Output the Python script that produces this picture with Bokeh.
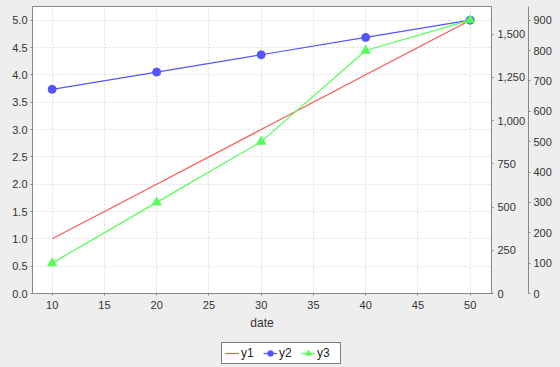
from bokeh.plotting import figure
from bokeh.models import Range1d, LinearAxis, FixedTicker, NumeralTickFormatter, Legend, LegendItem
from bokeh.layouts import column
from bokeh.embed import file_html
from bokeh.resources import INLINE

# ---- data ----
dates = [10, 20, 30, 40, 50]
y1 = [1, 2, 3, 4, 5]
y2 = [1180, 1280, 1380, 1480, 1580]
y3 = [100, 300, 500, 800, 900]

x_ticks = [10, 15, 20, 25, 30, 35, 40, 45, 50]
left_ticks = [0, 0.5, 1, 1.5, 2, 2.5, 3, 3.5, 4, 4.5, 5]
right1_ticks = [0, 250, 500, 750, 1000, 1250, 1500]
right2_ticks = [0, 100, 200, 300, 400, 500, 600, 700, 800, 900]

FONT = "Liberation Sans"
BG = "#EEEEEE"
AX = "#888888"
RED, BLUE, GREEN = "#FF5555", "#5555FF", "#55FF55"

p = figure(width=560, height=335, output_backend="svg", toolbar_location=None,
           x_range=Range1d(8.12, 52.04), y_range=Range1d(0, 5.25),
           min_border_left=32, min_border_top=6, min_border_right=69, min_border_bottom=42,
           background_fill_color="white", border_fill_color=BG,
           outline_line_color=AX)

p.extra_y_ranges = {"r1": Range1d(0, 1659), "r2": Range1d(0, 945)}

def style_axis(ax):
    ax.axis_line_color = AX
    ax.major_tick_line_color = AX
    ax.major_tick_in = 0
    ax.major_tick_out = 2
    ax.minor_tick_line_color = None
    ax.major_label_text_font = FONT
    ax.major_label_text_font_size = "11px"
    ax.major_label_text_color = "#333333"
    ax.major_label_standoff = 3
    ax.axis_label_text_font = FONT
    ax.axis_label_text_font_size = "12px"
    ax.axis_label_text_font_style = "normal"
    ax.axis_label_text_color = "#333333"

xa = p.xaxis[0]
style_axis(xa)
xa.ticker = FixedTicker(ticks=x_ticks)
xa.axis_label = "date"
xa.axis_label_standoff = 4
xa.major_label_standoff = 5

ya = p.yaxis[0]
style_axis(ya)
ya.ticker = FixedTicker(ticks=left_ticks)
ya.formatter = NumeralTickFormatter(format="0.0")

ax1 = LinearAxis(y_range_name="r1", ticker=FixedTicker(ticks=right1_ticks),
                 formatter=NumeralTickFormatter(format="0,0"))
style_axis(ax1)
ax1.major_label_standoff = 4
p.add_layout(ax1, "right")
ax2 = LinearAxis(y_range_name="r2", ticker=FixedTicker(ticks=right2_ticks))
style_axis(ax2)
p.add_layout(ax2, "right")

for g in (p.xgrid[0], p.ygrid[0]):
    g.grid_line_color = "#DDDDDD"
    g.grid_line_dash = "2 2"
    g.grid_line_width = 1
p.xgrid[0].ticker = FixedTicker(ticks=x_ticks)
p.ygrid[0].ticker = FixedTicker(ticks=left_ticks)

p.line(dates, y1, line_color=RED, line_width=1.2)
p.line(dates, y2, line_color=BLUE, line_width=1.2, y_range_name="r1")
p.scatter(dates, y2, marker="circle", size=8, fill_color=BLUE, line_color=BLUE, y_range_name="r1")
p.line(dates, y3, line_color=GREEN, line_width=1.2, y_range_name="r2")
p.scatter(dates, y3, marker="triangle", size=9, fill_color=GREEN, line_color=GREEN, y_range_name="r2")

# ---- legend strip (same series, off-view ranges, only the legend shows) ----
q = figure(width=560, height=32, output_backend="svg", toolbar_location=None,
           x_range=Range1d(1000, 1001), y_range=Range1d(1000, 1001),
           min_border=0, background_fill_color=BG, border_fill_color=BG,
           outline_line_color=None)
q.axis.visible = False
q.grid.visible = False
k1 = q.line(dates, y1, line_color=RED, line_width=1.2)
k2 = q.line(dates, y2, line_color=BLUE, line_width=1.2)
m2 = q.scatter(dates, y2, marker="circle", size=7, fill_color=BLUE, line_color=BLUE)
k3 = q.line(dates, y3, line_color=GREEN, line_width=1.2)
m3 = q.scatter(dates, y3, marker="triangle", size=8, fill_color=GREEN, line_color=GREEN)

legend = Legend(items=[LegendItem(label="y1", renderers=[k1]),
                       LegendItem(label="y2", renderers=[k2, m2]),
                       LegendItem(label="y3", renderers=[k3, m3])],
                orientation="horizontal", location=(189, 3),
                label_text_font=FONT, label_text_font_size="12px",
                label_text_color="#222222",
                label_standoff=2, glyph_width=14, glyph_height=14,
                spacing=2, padding=3, margin=0,
                border_line_color="black", border_line_width=1,
                background_fill_color="white", background_fill_alpha=1)
q.add_layout(legend, "center")

layout = column(p, q, spacing=0)

html = file_html(layout, INLINE)
html = html.replace("<head>", "<head><style>html,body{background:#EEEEEE;}</style>", 1)
open("out.html", "w").write(html)
